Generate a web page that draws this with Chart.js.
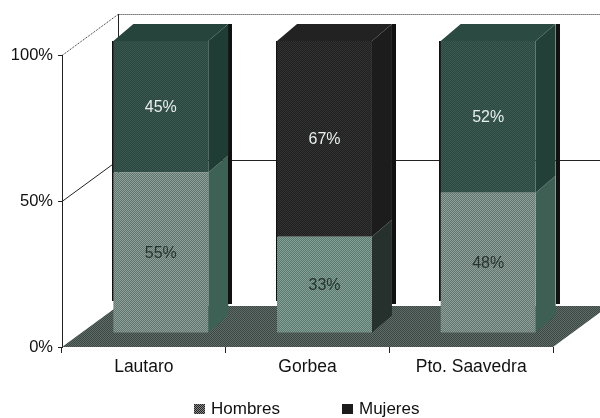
<!DOCTYPE html>
<html>
<head>
<meta charset="utf-8">
<style>
  html, body { margin: 0; padding: 0; background: #fff; }
  #wrap { width: 600px; height: 418px; overflow: hidden; }
</style>
<script src="https://cdn.jsdelivr.net/npm/chart.js@4"></script>
</head>
<body>
<div id="wrap"><canvas id="grafico" width="600" height="418"></canvas></div>
<script>
const categorias = ['Lautaro', 'Gorbea', 'Pto. Saavedra'];
const hombres = [55, 33, 48];
const mujeres = [45, 67, 52];
const ticksY = [0, 50, 100];

const fuente = '"Liberation Sans", Arial, sans-serif';

// dithered fill, the reference is a scanned print
function trama(a, b) {
    const c = document.createElement('canvas');
    c.width = 2;
    c.height = 2;
    const g = c.getContext('2d');
    g.fillStyle = a;
    g.fillRect(0, 0, 2, 2);
    g.fillStyle = b;
    g.fillRect(0, 0, 1, 1);
    g.fillRect(1, 1, 1, 1);
    return g.createPattern(c, 'repeat');
}

const frenteHombres = [trama('#8f9f99', '#5f756d'), trama('#86a097', '#5a7a70'), trama('#8f9f99', '#62766f')];
const frenteMujeres = [trama('#3a554d', '#2b4840'), trama('#333333', '#1f1f1f'), trama('#3d5a52', '#2b4840')];
const ladoHombres = ['#3d6155', '#26302d', '#3d5f54'];
const ladoMujeres = ['#1f3d35', '#1c1c1c', '#234038'];
const tapa = ['#26443b', '#222222', '#2b4a41'];

// depth of the floor and of the bars, in px
const fondo = { x: 56, y: -41 };
const prof = { x: 20, y: -17 };
const desplaza = { x: 17, y: -14 };

function poligono(ctx, puntos, color) {
    ctx.beginPath();
    puntos.forEach((p, i) => i ? ctx.lineTo(p[0], p[1]) : ctx.moveTo(p[0], p[1]));
    ctx.closePath();
    ctx.fillStyle = color;
    ctx.fill();
}

const escena3d = {
    id: 'escena3d',
    beforeDatasetsDraw(chart) {
        const ctx = chart.ctx;
        const { left, right, bottom } = chart.chartArea;
        const y = chart.scales.y;
        ctx.save();

        // walls
        ctx.strokeStyle = '#222';
        ctx.lineWidth = 1;
        ticksY.forEach(v => {
            const py = Math.round(y.getPixelForValue(v)) + 0.5;
            if (v === 0) return;
            ctx.beginPath();
            ctx.moveTo(left, py);
            ctx.lineTo(left + fondo.x, py + fondo.y);
            if (v === 100) ctx.setLineDash([1, 1]);
            ctx.lineTo(right + fondo.x, py + fondo.y);
            ctx.stroke();
            ctx.setLineDash([]);
        });
        ctx.beginPath();
        ctx.moveTo(left + fondo.x + 0.5, y.getPixelForValue(100) + fondo.y);
        ctx.lineTo(left + fondo.x + 0.5, bottom + fondo.y);
        ctx.stroke();

        // floor
        poligono(ctx, [
            [left, bottom],
            [left + fondo.x, bottom + fondo.y],
            [right + fondo.x, bottom + fondo.y],
            [right, bottom]
        ], trama('#5f6d68', '#3c4642'));

        // sides and tops of the bars
        const capas = [[0, ladoHombres], [1, ladoMujeres]];
        capas.forEach(([d, lados]) => {
            chart.getDatasetMeta(d).data.forEach((bar, i) => {
                const p = bar.getProps(['x', 'y', 'base', 'width'], true);
                const der = p.x + p.width / 2 + desplaza.x;
                const izq = p.x - p.width / 2 + desplaza.x;
                const sup = p.y + desplaza.y;
                const inf = p.base + desplaza.y;
                // black edge behind the bar
                if (d === 1) {
                    ctx.fillStyle = '#111';
                    ctx.fillRect(Math.round(der + prof.x), sup + prof.y, 4, 280);
                    ctx.fillRect(Math.floor(izq) - 1, sup, 2, 260);
                }
                poligono(ctx, [
                    [der, sup],
                    [der + prof.x, sup + prof.y],
                    [der + prof.x, inf + prof.y],
                    [der, inf]
                ], lados[i]);
                if (d === 1) {
                    poligono(ctx, [
                        [izq, sup],
                        [izq + prof.x, sup + prof.y],
                        [der + prof.x, sup + prof.y],
                        [der, sup]
                    ], tapa[i]);
                }
            });
        });

        ctx.restore();
        // the bars themselves go on the middle of the floor
        ctx.save();
        ctx.translate(desplaza.x, desplaza.y);
    },
    afterDatasetsDraw(chart) {
        const ctx = chart.ctx;
        ctx.restore();

        // value labels
        ctx.save();
        ctx.textAlign = 'center';
        ctx.textBaseline = 'middle';
        ctx.font = '16px ' + fuente;
        chart.data.datasets.forEach((ds, d) => {
            ctx.fillStyle = d === 0 ? '#26332f' : '#e8efec';
            chart.getDatasetMeta(d).data.forEach((bar, i) => {
                const p = bar.getProps(['x', 'y', 'base'], true);
                ctx.fillText(ds.data[i] + '%', p.x + desplaza.x, (p.y + p.base) / 2 + desplaza.y + 1);
            });
        });

        // legend
        ctx.font = '17px ' + fuente;
        ctx.textAlign = 'left';
        const marcas = [194, 342];
        chart.data.datasets.forEach((ds, d) => {
            ctx.fillStyle = d === 0 ? trama('#8a8a8a', '#222') : '#1c1c1c';
            ctx.fillRect(marcas[d], 404, 11, 10);
            ctx.fillStyle = '#111';
            ctx.fillText(ds.label, marcas[d] + 17, 409);
        });
        ctx.restore();
    }
};

new Chart(document.getElementById('grafico'), {
    type: 'bar',
    data: {
        labels: categorias,
        datasets: [{
            label: 'Hombres',
            data: hombres,
            backgroundColor: frenteHombres,
            borderWidth: 0,
            barPercentage: 0.58,
            categoryPercentage: 1,
            clip: false
        }, {
            label: 'Mujeres',
            data: mujeres,
            backgroundColor: frenteMujeres,
            borderWidth: 0,
            barPercentage: 0.58,
            categoryPercentage: 1,
            clip: false
        }]
    },
    options: {
        responsive: false,
        animation: false,
        layout: { padding: { top: 55, right: 47, left: 0, bottom: 0 } },
        plugins: { legend: { display: false }, tooltip: { enabled: false } },
        scales: {
            x: {
                stacked: true,
                afterFit(scale) { scale.height = 71; },
                grid: { drawOnChartArea: false, drawTicks: true, tickLength: 6, color: '#222' },
                border: { display: false },
                ticks: { color: '#111', padding: 4, maxRotation: 0, font: { family: fuente, size: 17.5 } }
            },
            y: {
                stacked: true,
                min: 0,
                max: 100,
                afterFit(scale) { scale.width = 62; },
                afterBuildTicks(scale) { scale.ticks = ticksY.map(v => ({ value: v })); },
                grid: { drawOnChartArea: false, drawTicks: true, tickLength: 4, color: '#222' },
                border: { display: true, color: '#222', width: 1 },
                ticks: { color: '#111', padding: 5, font: { family: fuente, size: 16.5 }, callback: v => v + '%' }
            }
        }
    },
    plugins: [escena3d]
});
</script>
</body>
</html>
